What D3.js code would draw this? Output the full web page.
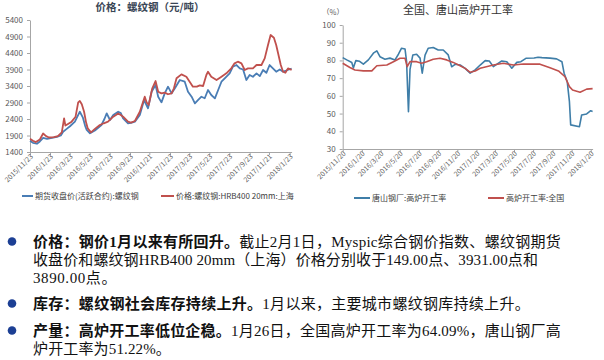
<!DOCTYPE html>
<html><head><meta charset="utf-8">
<script src="https://cdn.jsdelivr.net/npm/d3@7/dist/d3.min.js"></script>
<style>
html,body{margin:0;padding:0;background:#fff;}
#wrap{position:relative;width:604px;height:360px;overflow:hidden;}
svg{display:block;position:absolute;left:0;top:0;}
.ln{position:absolute;left:33px;white-space:nowrap;font-family:'Liberation Serif','Noto Sans CJK SC',serif;
    font-size:15px;line-height:18px;height:18px;color:#111;}
</style></head>
<body>
<div id="wrap"><svg id="c" width="604" height="360"></svg></div>
<script>
// ---------- DATA ----------
const leftTitle = "价格：螺纹钢（元/吨）";
const rightTitle = "全国、唐山高炉开工率";
const leftSeriesNames = ["期货收盘价(活跃合约):螺纹钢", "价格:螺纹钢:HRB400 20mm:上海"];
const rightSeriesNames = ["唐山钢厂:高炉开工率", "高炉开工率:全国"];

const leftXTickLabels = ["2015/11/23","2016/1/23","2016/3/23","2016/5/23","2016/7/23","2016/9/23","2016/11/21",
  "2017/1/23","2017/3/23","2017/5/23","2017/7/23","2017/9/23","2017/11/21","2018/1/23"];
const rightXTickLabels = ["2015/11/20","2016/1/20","2016/3/20","2016/5/20","2016/7/20","2016/9/20","2016/11/20",
  "2017/1/20","2017/3/20","2017/5/20","2017/7/20","2017/9/20","2017/11/20","2018/1/20"];
const leftYTicks = [1400,1900,2400,2900,3400,3900,4400,4900,5400];
const rightYTicks = [30,40,50,60,70,80,90,100];

// 期货收盘价(活跃合约):螺纹钢
const rebarFutures = [
 ["2015-11-23",1740],["2015-12-02",1680],["2015-12-14",1650],["2015-12-23",1720],["2016-01-02",1830],
 ["2016-01-14",1800],["2016-01-29",1830],["2016-02-13",1860],["2016-02-25",1900],["2016-03-03",2015],
 ["2016-03-14",2100],["2016-03-24",2180],["2016-04-08",2318],["2016-04-17",2500],["2016-04-23",2620],
 ["2016-05-02",2450],["2016-05-09",2200],["2016-05-14",2067],["2016-05-24",1966],["2016-06-08",2050],
 ["2016-06-28",2218],["2016-07-07",2400],["2016-07-14",2570],["2016-07-24",2370],["2016-08-03",2521],
 ["2016-08-18",2620],["2016-08-26",2580],["2016-09-02",2420],["2016-09-17",2270],["2016-09-26",2280],
 ["2016-10-08",2320],["2016-10-23",2521],["2016-11-05",2976],["2016-11-17",2724],["2016-11-28",3227],
 ["2016-12-10",3430],["2016-12-18",3076],["2016-12-28",2905],["2017-01-07",3177],["2017-01-17",3379],
 ["2017-01-28",3177],["2017-02-07",3330],["2017-02-22",3582],["2017-03-09",3530],["2017-03-19",3227],
 ["2017-03-30",3076],["2017-04-09",2875],["2017-04-19",2976],["2017-04-29",3076],["2017-05-09",3030],
 ["2017-05-19",3279],["2017-05-29",3127],["2017-06-09",3026],["2017-06-19",3279],["2017-06-29",3530],
 ["2017-07-09",3633],["2017-07-24",3783],["2017-08-03",3985],["2017-08-14",4036],["2017-08-24",3935],
 ["2017-09-03",3900],["2017-09-13",3582],["2017-09-23",3733],["2017-10-03",3680],["2017-10-14",3783],
 ["2017-10-24",3700],["2017-11-03",3885],["2017-11-13",3800],["2017-11-23",4036],["2017-12-03",3935],
 ["2017-12-13",3833],["2017-12-24",3900],["2018-01-03",3833],["2018-01-13",3870],["2018-01-29",3931]
];
// 价格:螺纹钢:HRB400 20mm:上海
const rebarSpot = [
 ["2015-11-23",1800],["2015-12-02",1740],["2015-12-11",1700],["2015-12-23",1780],["2016-01-02",1960],
 ["2016-01-11",1880],["2016-01-20",1840],["2016-02-04",1850],["2016-02-16",1880],["2016-02-28",1996],
 ["2016-03-06",2420],["2016-03-10",2200],["2016-03-18",2250],["2016-03-29",2320],["2016-04-10",2470],
 ["2016-04-18",2905],["2016-04-23",2945],["2016-04-29",2850],["2016-05-06",2620],["2016-05-12",2300],
 ["2016-05-17",2117],["2016-05-27",1996],["2016-06-08",2100],["2016-06-23",2218],["2016-07-05",2270],
 ["2016-07-18",2318],["2016-08-03",2470],["2016-08-18",2570],["2016-08-26",2520],["2016-09-02",2470],
 ["2016-09-17",2318],["2016-09-26",2290],["2016-10-08",2340],["2016-10-23",2620],["2016-11-07",3076],
 ["2016-11-13",2900],["2016-11-19",2824],["2016-11-30",3330],["2016-12-10",3550],["2016-12-18",3227],
 ["2016-12-28",3177],["2017-01-07",3200],["2017-01-17",3150],["2017-01-28",3177],["2017-02-04",3330],
 ["2017-02-12",3633],["2017-02-27",3753],["2017-03-14",3682],["2017-03-24",3530],["2017-04-03",3379],
 ["2017-04-15",3380],["2017-04-24",3420],["2017-05-04",3400],["2017-05-14",3733],["2017-05-19",3833],
 ["2017-05-29",3680],["2017-06-14",3582],["2017-06-29",3682],["2017-07-14",3783],["2017-07-29",3935],
 ["2017-08-08",4087],["2017-08-18",4137],["2017-08-29",4087],["2017-09-08",3885],["2017-09-18",3935],
 ["2017-10-03",3935],["2017-10-14",4036],["2017-10-29",4036],["2017-11-08",4238],["2017-11-18",4642],
 ["2017-11-26",4945],["2017-12-06",4864],["2017-12-13",4642],["2017-12-20",4339],["2017-12-27",4036],
 ["2018-01-03",3833],["2018-01-10",3800],["2018-01-18",3935],["2018-01-29",3890]
];
// 唐山钢厂:高炉开工率
const rateTangshan = [
 ["2015-11-20",81.6],["2015-12-03",80.3],["2015-12-19",78.8],["2015-12-24",75.8],["2016-01-01",79.9],
 ["2016-01-13",79.5],["2016-01-25",77.9],["2016-02-10",80.3],["2016-02-26",84.1],["2016-03-08",85.4],
 ["2016-03-18",82.1],["2016-04-03",80.7],["2016-04-19",81.3],["2016-05-05",80.3],["2016-05-16",83.5],
 ["2016-05-26",86.9],["2016-06-06",86.5],["2016-06-11",79.3],["2016-06-17",51.1],["2016-06-22",75.0],
 ["2016-07-01",83.1],["2016-07-13",83.5],["2016-07-24",81.3],["2016-07-31",72.8],["2016-08-09",83.0],
 ["2016-08-19",86.9],["2016-09-04",87.3],["2016-09-20",85.9],["2016-10-06",85.9],["2016-10-22",83.1],
 ["2016-11-02",76.4],["2016-11-13",77.8],["2016-11-29",77.4],["2016-12-15",75.5],["2016-12-31",72.8],
 ["2017-01-16",74.7],["2017-02-01",77.4],["2017-02-17",79.9],["2017-03-02",79.7],["2017-03-15",76.5],
 ["2017-04-11",79.7],["2017-04-27",79.3],["2017-05-13",75.6],["2017-05-29",78.9],["2017-06-11",79.3],
 ["2017-06-27",81.2],["2017-07-23",81.4],["2017-08-05",81.8],["2017-08-17",81.6],["2017-09-12",81.3],
 ["2017-10-03",80.9],["2017-10-20",79.3],["2017-10-27",72.8],["2017-11-06",68.0],["2017-11-13",56.7],
 ["2017-11-17",43.6],["2017-12-15",42.6],["2017-12-22",49.2],["2018-01-07",49.8],["2018-01-20",51.6],
 ["2018-01-26",51.22]
];
// 高炉开工率:全国
const rateNational = [
 ["2015-11-20",78.4],["2015-12-13",76.0],["2015-12-29",74.6],["2016-01-25",74.1],["2016-02-21",74.1],
 ["2016-03-08",77.0],["2016-04-09",77.4],["2016-04-30",79.3],["2016-05-21",81.2],["2016-06-06",81.2],
 ["2016-06-13",76.5],["2016-06-22",79.3],["2016-07-13",79.3],["2016-07-29",78.4],["2016-08-14",79.3],
 ["2016-09-04",80.7],["2016-09-26",81.2],["2016-10-17",80.3],["2016-11-07",78.9],["2016-11-29",77.0],
 ["2016-12-15",75.5],["2016-12-31",73.3],["2017-01-16",74.0],["2017-02-01",75.6],["2017-03-15",77.4],
 ["2017-04-16",78.4],["2017-05-18",77.4],["2017-06-19",78.0],["2017-08-11",77.9],["2017-09-12",75.9],
 ["2017-10-09",74.1],["2017-10-30",70.8],["2017-11-13",65.2],["2017-11-23",63.3],["2017-12-17",62.0],
 ["2018-01-07",63.8],["2018-01-26",64.09]
];

// ---------- DRAW ----------
const parse = d3.timeParse("%Y-%m-%d");
const parseLbl = d3.timeParse("%Y/%m/%d");
const svg = d3.select("#c");
const FONT = "'Noto Sans CJK SC','Noto Sans',sans-serif";
const axisColor = "#a6a6a6", labelColor = "#595959";

function drawChart(o){
  const g = svg.append("g");
  const x = d3.scaleTime().domain([parse(o.x0), parse(o.x1)]).range([o.left, o.right]);
  const y = d3.scaleLinear().domain([o.yTicks[0], o.yTicks[o.yTicks.length-1]]).range([o.bottom, o.top]);

  const ya = g.append("g").attr("transform", `translate(${o.left},0)`)
    .call(d3.axisLeft(y).tickValues(o.yTicks).tickFormat(d3.format("d")).tickSize(3).tickSizeOuter(0).tickPadding(4));
  ya.selectAll("path,line").attr("stroke", axisColor);
  ya.selectAll("text").attr("fill", labelColor).style("font-family", FONT).style("font-size", "8px");

  const tickDates = o.xLabels.map(parseLbl);
  const xa = g.append("g").attr("transform", `translate(0,${o.bottom})`)
    .call(d3.axisBottom(x).tickValues(tickDates).tickSize(3).tickSizeOuter(0)
      .tickFormat((d,i)=>o.xLabels[i]));
  xa.selectAll("path,line").attr("stroke", axisColor);
  xa.selectAll("text").attr("fill", labelColor).style("font-family", FONT).style("font-size", "7px")
    .attr("text-anchor","end").attr("dy", null).attr("y", null)
    .attr("transform", "translate(3,5) rotate(-45)");

  const line = d3.line().x(d=>x(parse(d[0]))).y(d=>y(d[1]));
  o.series.forEach(s=>{
    g.append("path").datum(s.data).attr("d", line).attr("fill","none")
      .attr("stroke", s.color).attr("stroke-width", s.width).attr("stroke-linejoin","round");
  });

  g.append("text").attr("x", o.titleX).attr("y", o.titleY).attr("text-anchor","middle")
    .style("font-family", FONT).style("font-size", o.titleSize).style("font-weight", o.titleWeight)
    .attr("fill", o.titleColor).text(o.title);

  o.legend.forEach(l=>{
    g.append("line").attr("x1", l.x).attr("x2", l.x + l.len).attr("y1", l.y).attr("y2", l.y)
      .attr("stroke", l.color).attr("stroke-width", 2);
    g.append("text").attr("x", l.x + l.len + 2).attr("y", l.y + 3)
      .style("font-family", FONT).style("font-size", "8px").attr("fill", "#404040").text(l.name);
  });
}

const blueL = "#4a7db5", red = "#c0504d", blueR = "#3f7ea8";
drawChart({
  left:30, right:291.6, top:20, bottom:152, x0:"2015-11-23", x1:"2018-01-29",
  yTicks:leftYTicks, xLabels:leftXTickLabels,
  series:[{data:rebarFutures, color:blueL, width:1.8},{data:rebarSpot, color:red, width:1.8}],
  title:leftTitle, titleX:150, titleY:11, titleSize:"10.5px", titleWeight:700, titleColor:"#3a4656",
  legend:[{x:22,y:196,len:11,color:blueL,name:leftSeriesNames[0]},
          {x:161,y:196,len:13,color:red,name:leftSeriesNames[1]}]
});
drawChart({
  left:342.7, right:592.6, top:25, bottom:149, x0:"2015-11-20", x1:"2018-01-26",
  yTicks:rightYTicks, xLabels:rightXTickLabels,
  series:[{data:rateTangshan, color:blueR, width:1.6},{data:rateNational, color:red, width:1.6}],
  title:rightTitle, titleX:458, titleY:14, titleSize:"11px", titleWeight:400, titleColor:"#333",
  legend:[{x:354,y:198,len:16,color:blueR,name:rightSeriesNames[0]},
          {x:488,y:198,len:16,color:red,name:rightSeriesNames[1]}]
});
svg.append("text").attr("x", 322).attr("y", 15).style("font-family", FONT).style("font-size","7.5px")
  .attr("fill", labelColor).text("（%）");

// ---------- TEXT BLOCK (HTML lines, 18px line boxes) ----------
const paragraphs = [
  {y:247, lines:[{w:528, segs:[["价格：钢价1月以来有所回升。",true],["截止2月1日，Myspic综合钢价指数、螺纹钢期货",false]]},
                 {w:505, segs:[["收盘价和螺纹钢HRB400 20mm（上海）价格分别收于149.00点、3931.00点和",false]]},
                 {w:84,  segs:[["3890.00点。",false]]}]},
  {y:309, lines:[{w:497, segs:[["库存：螺纹钢社会库存持续上升。",true],["1月以来，主要城市螺纹钢库持续上升。",false]]}]},
  {y:336, lines:[{w:528, segs:[["产量：高炉开工率低位企稳。",true],["1月26日，全国高炉开工率为64.09%，唐山钢厂高",false]]},
                 {w:138, segs:[["炉开工率为51.22%。",false]]}]}
];
const wrap = d3.select("#wrap");
paragraphs.forEach(p=>{
  svg.append("circle").attr("cx", 12).attr("cy", p.y - 5.5).attr("r", 4.3).attr("fill", "#1c3f94");
  p.lines.forEach((ln,i)=>{
    const div = wrap.append("div").attr("class","ln").style("top", (p.y + i*18 - 14.1) + "px");
    ln.segs.forEach(seg=>{
      div.append("span").style("font-weight", seg[1]?700:400).text(seg[0]);
    });
    const node = div.node();
    const range = document.createRange(); range.selectNodeContents(node);
    const natural = range.getBoundingClientRect().width;
    const chars = ln.segs.map(s=>s[0]).join("").length;
    div.style("letter-spacing", ((ln.w - natural) / chars) + "px");
  });
});
</script>
</body></html>
